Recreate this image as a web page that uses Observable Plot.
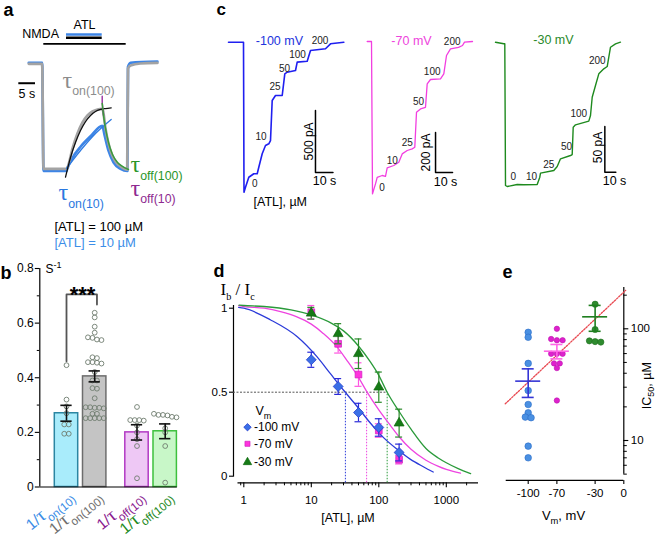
<!DOCTYPE html>
<html><head><meta charset="utf-8">
<script src="https://cdn.jsdelivr.net/npm/d3@7"></script>
<script src="https://cdn.jsdelivr.net/npm/@observablehq/plot@0.6"></script>
<style>
html,body{margin:0;padding:0;background:#fff;}
#fig{position:relative;width:656px;height:538px;overflow:hidden;background:#fff;}
</style></head><body><div id="fig"></div>
<script>
// ---------------- DATA ----------------
// panel a : normalised NMDA current traces (t in s, I normalised)
const aTrace100 = [[0,0],[4.0,0],[4.4,-1.0],[11.3,-1.0],[11.59,-0.988],[13.08,-0.807],[14.58,-0.664],[16.08,-0.559],[17.57,-0.492],[19.07,-0.454],[20.57,-0.435],[21.92,-0.429],[22.22,-0.445],[22.96,-0.616],[23.86,-0.759],[24.76,-0.854],[25.96,-0.93],[27.46,-0.977],[29.46,-1.007],[29.7,-0.045],[30.45,-0.016],[33.4,0.003],[38.5,0.008]];
const aTrace10 = [[0,0.01],[4.0,0.01],[4.4,-1.02],[11.3,-1.02],[11.5,-1.0],[13,-0.9],[15.5,-0.79],[18.5,-0.69],[22.0,-0.59],[22.7,-0.68],[23.9,-0.83],[25.4,-0.94],[27.5,-1.0],[29.5,-1.02],[29.7,-0.03],[30.45,0.01],[38.5,0.02]];
const aFitOn100 = [[10.99,-1.08],[12.49,-0.892],[13.98,-0.75],[15.48,-0.635],[16.98,-0.55],[18.47,-0.492],[19.97,-0.454],[21.47,-0.435],[22.96,-0.426],[24.67,-0.419]];
const aFitOn10 = [[11.29,-0.997],[15.48,-0.826],[19.97,-0.664],[24.67,-0.53]];
const aFitOff100 = [[21.99,-0.378],[22.37,-0.492],[22.96,-0.616],[23.86,-0.75],[25.06,-0.864],[26.56,-0.94],[28.05,-0.978],[29.85,-1.007]];
const aFitOff10 = [[21.98,-0.31],[21.99,-0.38],[22.37,-0.49]];
const aStim = [{name: "NMDA", t1: 4.49, t2: 29.16}, {name: "ATL", t1: 11.29, t2: 21.98}];

// panel b : rates (s^-1)
const bCats = ["on10", "on100", "off10", "off100"];
const bLabels = ["1/~1.25{τ}_0.75{on(10)}", "1/~1.25{τ}_0.75{on(100)}", "1/~1.25{τ}_0.75{off(10)}", "1/~1.25{τ}_0.75{off(100)}"];
const bMean = [0.27, 0.405, 0.2, 0.204];
const bSem = [0.029, 0.02, 0.028, 0.027];
const bOn10 = [0.446, 0.32, 0.295, 0.27, 0.229, 0.229, 0.195, 0.195];
const bOn100 = [0.638, 0.621, 0.587, 0.565, 0.548, 0.546, 0.54, 0.538, 0.475, 0.472, 0.457, 0.457, 0.455, 0.452, 0.421, 0.39, 0.39, 0.362, 0.36, 0.325, 0.292, 0.292, 0.29, 0.29, 0.288, 0.268, 0.268, 0.252, 0.252, 0.252, 0.252, 0.252];
const bOff10 = [0.293, 0.245, 0.245, 0.245, 0.243, 0.225, 0.2, 0.175, 0.15, 0.032];
const bOff100 = [0.268, 0.264, 0.264, 0.262, 0.257, 0.255, 0.215, 0.2, 0.15, 0.016];
const bTicks = [0, 0.2, 0.4, 0.6, 0.8];
const bTickLabels = ["0", "0.2", "0.4", "0.6", "0.8"];

// panel c : current traces (t in s, I in pA)
const cSteps = ["0", "10", "25", "50", "100", "200"];
const cBlue = [[0,0],[8.57,0],[8.86,-1210],[9.71,-1169],[11.6,-1089],[14.46,-1061],[16.4,-1061],[17.31,-1008],[19.26,-900],[21.14,-833],[23.03,-819],[24.0,-793],[24.97,-470],[26.86,-430],[30.69,-430],[32.17,-255],[33.54,-242],[38.29,-228],[39.26,-161],[44.97,-153],[46.86,-67],[55.43,-53],[58.29,-13],[65.9,0]];
const cPink = [[0,0],[2.53,0],[3.12,-762],[4.88,-712],[5.88,-679],[8.82,-670],[10.76,-674],[11.76,-632],[15.65,-620],[18.59,-604],[20.59,-562],[23.53,-545],[26.47,-537],[28.0,-529],[29.0,-354],[31.35,-337],[34.29,-329],[35.29,-212],[37.24,-190],[43.12,-187],[45.06,-162],[46.65,-70],[49.0,-37],[53.71,-29],[56.06,-20],[57.24,-3],[61.94,0]];
const cGreen = [[0,0],[7.55,-1.75],[8.45,-1.75],[9.09,-156.8],[10.64,-157.9],[19.73,-155.7],[25.73,-156],[37.91,-155.7],[40.27,-147.7],[40.91,-143.3],[53,-140.4],[56.09,-136],[59.09,-127.6],[68.18,-124],[69.73,-122.9],[70.64,-93],[72.73,-90.4],[84.82,-86.4],[86.36,-80.2],[87.91,-60.2],[90.91,-47.4],[93.91,-34.6],[98.45,-29.1],[101.55,-26.6],[103,-16.4],[104.55,-5.5],[109.1,-1.75],[113.6,0]];
const cBlueLab = [[15.03,-1140],[18.57,-765],[26.57,-360],[32.0,-212],[39.43,-103],[52.29,14]];
const cPinkLab = [[8.71,-730],[14.7,-595],[23.53,-507],[30.18,-303],[38.24,-153],[50,-3]];
const cGreenLab = [[16.1,-147],[32.7,-147],[48.5,-134],[64.5,-114],[75.7,-78],[92.5,-20]];
const cBars = [{t: 49.7, i: -1050, dt: 10, di: 500}, {t: 40.2, i: -655, dt: 10, di: 200}, {t: 99.4, i: -142.2, dt: 10, di: 50}];

// panel d : concentration-response
const dConc = [10, 25, 50, 100, 200];
const dMean100 = [0.693, 0.534, 0.379, 0.29, 0.141];
const dErr100 = [0.045, 0.047, 0.055, 0.052, 0.05];
const dMean70 = [0.976, 0.788, 0.605, 0.272, 0.098];
const dErr70 = [0.04, 0.055, 0.07, 0.04, 0.025];
const dMean30 = [0.97, 0.848, 0.729, 0.53, 0.316];
const dErr30 = [0.035, 0.06, 0.088, 0.09, 0.083];
const dFit100 = [[0.84,1.005],[1,1.0],[2.5,0.93],[6.2,0.83],[12.2,0.71],[19.2,0.61],[30.3,0.51],[47.8,0.415],[75.4,0.315],[118.6,0.228],[187,0.16],[295,0.1],[464,0.055],[640,0.025]];
const dFit70 = [[0.84,1.015],[1,1.01],[2,1.0],[3.5,0.98],[6,0.95],[10,0.905],[15,0.85],[24,0.77],[35,0.68],[48,0.6],[66,0.505],[100,0.395],[150,0.3],[200,0.235],[300,0.16],[500,0.095],[750,0.06],[1000,0.04],[1623,0.018]];
const dFit30 = [[0.85,1.018],[1,1.016],[2,1.01],[5,0.99],[10,0.96],[20,0.91],[30,0.865],[50,0.775],[75,0.68],[100,0.6],[133,0.5],[200,0.385],[300,0.28],[500,0.165],[750,0.11],[1000,0.08],[1500,0.045],[2290,0.015]];
const dIC50 = [32, 66, 133];
const dSeries = ["-100 mV", "-70 mV", "-30 mV"];

// panel e : IC50 vs Vm
const eVm = [-100, -70, -30];
const eIC100 = [93, 84, 49, 28, 21, 17.7, 16.2, 16, 8.9, 7.0];
const eIC70 = [100, 81, 79, 79, 59.7, 59.7, 59.7, 49, 49, 44.5, 22.8];
const eIC30 = [166, 98.6, 78, 76.8, 76];
const eMean = [34, 63, 128];
const eLo = [24.3, 53.8, 95];
const eHi = [43.8, 72.4, 162];
const eFit = [[-124, 21.3], [2, 221]];
const eXTicks = [-100, -70, -30, 0];

// ---------------- HELPERS ----------------
const FONT = "'Liberation Sans', Arial, Helvetica, sans-serif";
const SERIF = "'Liberation Serif', 'Times New Roman', serif";
const fig = document.getElementById("fig");
const NS = "http://www.w3.org/2000/svg";

function rich(root) {
  root.querySelectorAll("text").forEach(t => {
    const s = t.textContent;
    if (!/[_^~][\d.]*\{/.test(s)) return;
    const base = parseFloat(getComputedStyle(t).fontSize) || 10;
    while (t.firstChild) t.removeChild(t.firstChild);
    const re = /([_^~])([\d.]*)\{([^}]*)\}/g;
    let last = 0, m, shift = 0, prev = base;
    const add = (str, size, target, family) => {
      if (!str) return;
      const sp = document.createElementNS(NS, "tspan");
      sp.textContent = str;
      if (Math.abs(size - base) > 0.01) sp.setAttribute("font-size", size.toFixed(2));
      if (family) sp.setAttribute("font-family", family);
      const d = target - shift;
      if (Math.abs(d) > 0.01) sp.setAttribute("dy", d.toFixed(2));
      shift = target;
      t.appendChild(sp);
      if (target === 0) prev = size;
    };
    while ((m = re.exec(s))) {
      add(s.slice(last, m.index), base, 0);
      const k = m[2] ? parseFloat(m[2]) : null;
      if (m[1] === "_") add(m[3], base * (k || 0.72), 0.3 * prev);
      else if (m[1] === "^") add(m[3], base * (k || 0.72), -0.42 * prev);
      else add(m[3], base * (k || 1), 0, SERIF);
      last = re.lastIndex;
    }
    add(s.slice(last), base, 0);
  });
}

function panel(x, y, marks) {
  const svg = Plot.plot({
    width: 656, height: 538, margin: 0,
    style: `background: none; font-family: ${FONT}; overflow: visible; position: absolute; left: 0; top: 0;`,
    x: {...x, axis: null}, y: {...y, axis: null},
    color: {type: "identity"},
    marks
  });
  fig.appendChild(svg);
  rich(svg);
  return svg;
}
const T = (s, x, y, o = {}) => Plot.text([s], {x, y, text: d => d, ...o});
const X0 = d => d[0], Y1 = d => d[1];

function spread(vals, tol, step, log) {
  const key = v => log ? Math.log10(v) : v;
  const idx = vals.map((v, i) => i).sort((a, b) => vals[b] - vals[a]);
  const offs = new Array(vals.length).fill(0);
  let g = [];
  const flush = () => { g.forEach((i, j) => offs[i] = (j - (g.length - 1) / 2) * step); g = []; };
  for (const i of idx) {
    if (g.length && Math.abs(key(vals[g[0]]) - key(vals[i])) > tol) flush();
    g.push(i);
  }
  flush();
  return offs;
}

// ---------------- PANEL A ----------------
panel({domain: [0, 39], range: [28.3, 158.56]}, {domain: [-1, 0], range: [168.3, 63.3]}, [
  Plot.line(aTrace10, {x: X0, y: Y1, stroke: "#3d85e6", strokeWidth: 2.7, curve: "monotone-x"}),
  Plot.line(aTrace100, {x: X0, y: Y1, stroke: "#a3a3a3", strokeWidth: 2.7, curve: "monotone-x"}),
  Plot.line(aFitOn10, {x: X0, y: Y1, stroke: "#2f7be0", strokeWidth: 1.3, curve: "monotone-x"}),
  Plot.line(aFitOn100, {x: X0, y: Y1, stroke: "#111", strokeWidth: 1.3, curve: "monotone-x"}),
  Plot.line(aFitOff10, {x: X0, y: Y1, stroke: "#a03ca6", strokeWidth: 1.5}),
  Plot.line(aFitOff100, {x: X0, y: Y1, stroke: "#3a9a3a", strokeWidth: 1.5, curve: "monotone-x"}),
  Plot.ruleY([aStim[0]], {y: 0.19, x1: "t1", x2: "t2", stroke: "#000", strokeWidth: 1.8}),
  Plot.ruleY([aStim[1]], {y: 0.279, x1: "t1", x2: "t2", stroke: "#3d85e6", strokeWidth: 2.6}),
  Plot.ruleY([aStim[1]], {y: 0.248, x1: "t1", x2: "t2", stroke: "#000", strokeWidth: 2.6}),
  Plot.ruleY([5], {y: -0.185, x1: -2.99, x2: d => -2.99 + d, stroke: "#000", strokeWidth: 2}),
  T("a", -7.57, 0.46, {fontWeight: "bold", fontSize: 18, textAnchor: "start", lineAnchor: "bottom"}),
  T(aStim[0].name, 9.04, 0.246, {fontSize: 12.5, textAnchor: "end", lineAnchor: "bottom"}),
  T(aStim[1].name, 16.68, 0.336, {fontSize: 12.5, textAnchor: "middle", lineAnchor: "bottom"}),
  T("5 s", -3.08, -0.321, {fontSize: 12.5, textAnchor: "start", lineAnchor: "bottom"}),
  T("~1.85{τ}_0.95{on(100)}", 10.09, -0.23, {fill: "#8c8c8c", fontSize: 13, textAnchor: "start", lineAnchor: "bottom"}),
  T("~1.85{τ}_0.95{on(10)}", 8.89, -1.30, {fill: "#2a78e0", fontSize: 13, textAnchor: "start", lineAnchor: "bottom"}),
  T("~1.85{τ}_0.95{off(100)}", 30.45, -1.035, {fill: "#2a962a", fontSize: 13, textAnchor: "start", lineAnchor: "bottom"}),
  T("~1.85{τ}_0.95{off(10)}", 30.45, -1.259, {fill: "#8e2a90", fontSize: 13, textAnchor: "start", lineAnchor: "bottom"}),
  T("[ATL] = 100 µM", 7.69, -1.588, {fontSize: 13, textAnchor: "start", lineAnchor: "bottom"}),
  T("[ATL] = 10 µM", 7.69, -1.74, {fill: "#3c8ee8", fontSize: 13, textAnchor: "start", lineAnchor: "bottom"})
]);

// ---------------- PANEL B ----------------
const bx = i => i + (i >= 2 ? 0.5 : 0);
const bAx = -0.947;
const bIdx = bCats.map((c, i) => i);
const bFill = ["#a9ecfb", "#c4c4c4", "#eec8f5", "#c8f7c8"];
const bStroke = ["#2b86a2", "#6d6d6d", "#b23ac4", "#3ec03e"];
const bLabFill = ["#3a8de6", "#6e6e6e", "#8a1a90", "#1e8a1e"];
const bDots = [bOn10, bOn100, bOff10, bOff100];
const bDotMarks = bDots.map((vals, k) => {
  const offs = spread(vals, 0.014, 0.16, false);
  return Plot.dot(vals, {x: (d, i) => bx(k) + offs[i], y: d => d, r: 2.4, stroke: "#6f7d6f", fill: "none", strokeWidth: 0.9});
});
panel({domain: [0, 3.5], range: [66, 164.7]}, {domain: [0, 0.8], range: [486.5, 268]}, [
  Plot.rectY(bIdx, {x1: i => bx(i) - 0.415, x2: i => bx(i) + 0.415, y1: 0, y2: i => bMean[i], fill: i => bFill[i], stroke: i => bStroke[i], strokeWidth: 1.5}),
  ...bDotMarks,
  Plot.ruleX(bIdx, {x: i => bx(i), y1: i => bMean[i] - bSem[i], y2: i => bMean[i] + bSem[i], stroke: "#111", strokeWidth: 1.6}),
  Plot.ruleY(bIdx, {y: i => bMean[i] - bSem[i], x1: i => bx(i) - 0.2, x2: i => bx(i) + 0.2, stroke: "#111", strokeWidth: 1.6}),
  Plot.ruleY(bIdx, {y: i => bMean[i] + bSem[i], x1: i => bx(i) - 0.2, x2: i => bx(i) + 0.2, stroke: "#111", strokeWidth: 1.6}),
  Plot.line([[bx(0), 0.46], [bx(0), 0.705], [bx(1) + 0.08, 0.705], [bx(1) + 0.08, 0.668]], {x: X0, y: Y1, stroke: "#555", strokeWidth: 1.8}),
  T("***", 0.567, 0.677, {fontSize: 22, fontWeight: "bold", textAnchor: "middle", lineAnchor: "bottom"}),
  Plot.ruleX([bAx], {x: d => d, y1: 0, y2: 0.8, stroke: "#000", strokeWidth: 1.2}),
  Plot.ruleY([0], {y: d => d, x1: bAx, x2: 3.93, stroke: "#000", strokeWidth: 1.2}),
  Plot.ruleY(bTicks, {y: d => d, x1: bAx, x2: bAx, insetLeft: -4.5, stroke: "#000", strokeWidth: 1.1}),
  Plot.ruleY([0.1, 0.3, 0.5, 0.7], {y: d => d, x1: bAx, x2: bAx, insetLeft: -2.5, stroke: "#000", strokeWidth: 1}),
  Plot.text(bTicks, {x: bAx, y: d => d, text: (d, i) => bTickLabels[i], dx: -6, textAnchor: "end", lineAnchor: "middle", fontSize: 12}),
  T("S^0.75{-1}", -0.745, 0.782, {fontSize: 12, textAnchor: "start", lineAnchor: "bottom"}),
  T("b", -2.34, 0.761, {fontWeight: "bold", fontSize: 18, textAnchor: "start", lineAnchor: "bottom"}),
  Plot.text(bIdx, {x: i => bx(i), y: 0, text: i => bLabels[i], fill: i => bLabFill[i], rotate: -39, textAnchor: "end", lineAnchor: "top", dx: 0, dy: 1, fontSize: 15.5})
]);

// ---------------- PANEL C ----------------
function tracePanel(data, labs, bar, xr, yr, color, sw, extra) {
  return panel({domain: xr[0], range: xr[1]}, {domain: yr[0], range: yr[1]}, [
    Plot.line(data, {x: X0, y: Y1, stroke: color, strokeWidth: sw}),
    Plot.text(cSteps, {x: (d, i) => labs[i][0], y: (d, i) => labs[i][1], text: d => d, fontSize: 10, fill: "#222", textAnchor: "middle", lineAnchor: "middle"}),
    Plot.line([[bar.t, bar.i + bar.di], [bar.t, bar.i], [bar.t + bar.dt, bar.i]], {x: X0, y: Y1, stroke: "#000", strokeWidth: 1.5}),
    ...extra
  ]);
}
tracePanel(cBlue, cBlueLab, cBars[0], [[0, 66], [228, 343.5]], [[-1210, 0], [191.74, 41.7]], "#1f1ff0", 1.6, [
  T("c", -6.86, 218, {fontWeight: "bold", fontSize: 17, textAnchor: "start", lineAnchor: "bottom"}),
  T("-100 mV", 29.1, 13.7, {fill: "#2233dd", fontSize: 12.5, textAnchor: "middle", lineAnchor: "middle"}),
  T("500 pA", 46.0, -800, {fontSize: 12, rotate: -90, textAnchor: "middle", lineAnchor: "middle"}),
  T("10 s", 54.86, -1123, {fontSize: 12.5, textAnchor: "middle", lineAnchor: "middle"}),
  T("[ATL], µM", 14.29, -1285, {fontSize: 12.5, textAnchor: "start", lineAnchor: "middle"})
]);
tracePanel(cPink, cPinkLab, cBars[1], [[0, 62], [366.7, 472.1]], [[-762, 0], [193.4, 41]], "#f23fe0", 1.3, [
  T("-70 mV", 26.06, 5, {fill: "#ee44dd", fontSize: 12.5, textAnchor: "middle", lineAnchor: "middle"}),
  T("200 pA", 34.88, -555, {fontSize: 12, rotate: -90, textAnchor: "middle", lineAnchor: "middle"}),
  T("10 s", 46.06, -700, {fontSize: 12.5, textAnchor: "middle", lineAnchor: "middle"})
]);
tracePanel(cGreen, cGreenLab, cBars[2], [[0, 113.6], [495, 619.96]], [[-160, 0], [187.94, 41.7]], "#1e8a1e", 1.4, [
  T("-30 mV", 52.7, 1.9, {fill: "#2a8a2a", fontSize: 12.5, textAnchor: "middle", lineAnchor: "middle"}),
  T("50 pA", 93.4, -115.2, {fontSize: 12, rotate: -90, textAnchor: "middle", lineAnchor: "middle"}),
  T("10 s", 108.2, -152.4, {fontSize: 12.5, textAnchor: "middle", lineAnchor: "middle"})
]);

// ---------------- PANEL D ----------------
const dAx = 0.7036, dAy = -0.0393;
const dMinor = [];
for (const dec of [0.1, 1, 10, 100, 1000]) for (let k = 2; k <= 9; k++) {
  const v = +(k * dec).toPrecision(6);
  if (v >= 0.85 && v <= 2500) dMinor.push(v);
}
const dCol = {line: ["#2b3bd9", "#ee44e0", "#2a9a3a"], err: ["#2a2ad8", "#ff55e0", "#2a8a2a"], fill: ["#3a6fe6", "#ff33dd", "#167a16"], stroke: ["#1f35c8", "#d020c0", "#0f6a0f"]};
const dSym = ["diamond2", "square", "triangle"];
const dR = [4.5, 3.8, 3.7];
const dMeans = [dMean100, dMean70, dMean30], dErrs = [dErr100, dErr70, dErr30], dFits = [dFit100, dFit70, dFit30];
const dIdx = dConc.map((c, i) => i);
const dSeriesMarks = [1, 0, 2].flatMap(s => [
  Plot.ruleX(dIdx, {x: i => dConc[i], y1: i => dMeans[s][i] - dErrs[s][i], y2: i => dMeans[s][i] + dErrs[s][i], stroke: dCol.err[s], strokeWidth: 1.2}),
  Plot.ruleY(dIdx, {y: i => dMeans[s][i] - dErrs[s][i], x1: i => dConc[i], x2: i => dConc[i], insetLeft: -3.5, insetRight: -3.5, stroke: dCol.err[s], strokeWidth: 1.2}),
  Plot.ruleY(dIdx, {y: i => dMeans[s][i] + dErrs[s][i], x1: i => dConc[i], x2: i => dConc[i], insetLeft: -3.5, insetRight: -3.5, stroke: dCol.err[s], strokeWidth: 1.2}),
  Plot.dot(dIdx, {x: i => dConc[i], y: i => dMeans[s][i], symbol: dSym[s], r: dR[s], fill: dCol.fill[s], stroke: dCol.stroke[s], strokeWidth: 0.7})
]);
const dLegY = [0.2917, 0.1929, 0.0833];
panel({type: "log", domain: [1, 1000], range: [243.3, 445.8]}, {domain: [0, 1], range: [475.7, 307.7]}, [
  Plot.ruleX([dAx], {x: d => d, y1: -0.006, y2: 1.016, stroke: "#000", strokeWidth: 1.2}),
  Plot.ruleY([dAy], {y: d => d, x1: 0.82, x2: 3000, stroke: "#000", strokeWidth: 1.2}),
  Plot.ruleY([0, 0.5, 1], {y: d => d, x1: dAx, x2: dAx, insetLeft: -4, stroke: "#000", strokeWidth: 1.1}),
  Plot.text(["0", "0.5", "1"], {x: dAx, y: d => +d, text: d => d, dx: -6, textAnchor: "end", lineAnchor: "middle", fontSize: 11.5}),
  Plot.ruleX([1, 10, 100, 1000], {x: d => d, y1: dAy, y2: dAy, insetBottom: -5, stroke: "#000", strokeWidth: 1.1}),
  Plot.ruleX(dMinor, {x: d => d, y1: dAy, y2: dAy, insetBottom: -3, stroke: "#000", strokeWidth: 1}),
  Plot.text([1, 10, 100, 1000], {x: d => d, y: dAy, text: d => String(d), dy: 17.7, textAnchor: "middle", lineAnchor: "middle", fontSize: 11.5}),
  Plot.ruleY([0.5], {y: d => d, x1: dAx, x2: dIC50[2], stroke: "#555", strokeWidth: 1, strokeDasharray: "2,1.5"}),
  Plot.ruleX(dIC50, {x: d => d, y1: dAy, y2: 0.5, stroke: (d, i) => dCol.line[i], strokeWidth: 1, strokeDasharray: "1.5,1.5"}),
  ...dFits.map((f, s) => Plot.line(f, {x: X0, y: Y1, stroke: dCol.line[s], strokeWidth: 1.3, curve: "monotone-x"})),
  ...dSeriesMarks,
  T("V_0.72{m}", 1.49, 0.362, {fontSize: 12.5, textAnchor: "start", lineAnchor: "bottom"}),
  Plot.dot(dSeries, {x: 1.134, y: (d, i) => dLegY[i], symbol: (d, i) => dSym[i], r: (d, i) => [5.3, 3.8, 4.6][i], fill: (d, i) => dCol.fill[i], stroke: (d, i) => dCol.stroke[i], strokeWidth: 0.7}),
  Plot.text(dSeries, {x: 1.416, y: (d, i) => dLegY[i], text: d => d, fontSize: 12, textAnchor: "start", lineAnchor: "middle"}),
  T("d", 0.356, 1.183, {fontWeight: "bold", fontSize: 18, textAnchor: "start", lineAnchor: "bottom"}),
  T("I_0.6{b} / I_0.6{c}", 0.452, 1.0815, {fontFamily: SERIF, fontSize: 17, textAnchor: "start", lineAnchor: "bottom"}),
  T("[ATL], µM", 34.98, -0.246, {fontSize: 12.5, textAnchor: "middle", lineAnchor: "middle"})
]);

// ---------------- PANEL E ----------------
const eAy = 4.39;
const eCol = {pt: ["#4a90e2", "#dd22cc", "#2e8b2e"], ptStroke: ["#2a6cc8", "#c010b0", "#1f6f1f"], mean: ["#3535d5", "#ff66e6", "#1f7f1f"], r: [3.3, 2.7, 3.1]};
const eVals = [eIC100, eIC70, eIC30];
const eIdx = eVm.map((v, i) => i);
const ePtMarks = eVals.map((vals, k) => {
  const offs = spread(vals, 0.012, 6, true);
  return Plot.dot(vals, {x: (d, i) => eVm[k] + offs[i], y: d => d, r: eCol.r[k], fill: eCol.pt[k], stroke: eCol.ptStroke[k], strokeWidth: 0.6});
});
panel({domain: [-100, 0], range: [527.7, 623.3]}, {type: "log", domain: [10, 100], range: [440, 328.3]}, [
  Plot.ruleX([0], {x: d => d, y1: 5, y2: 234, stroke: "#000", strokeWidth: 1.2}),
  Plot.ruleY([eAy], {y: d => d, x1: -123, x2: 0, stroke: "#000", strokeWidth: 1.2}),
  Plot.ruleY([10, 100], {y: d => d, x1: 0, x2: 0, insetRight: -5, stroke: "#000", strokeWidth: 1.1}),
  Plot.ruleY([5, 6, 7, 8, 9, 20, 30, 40, 50, 60, 70, 80, 90, 200], {y: d => d, x1: 0, x2: 0, insetRight: -3.5, stroke: "#000", strokeWidth: 1}),
  Plot.text([10, 100], {x: 0, y: d => d, text: d => String(d), dx: 7, textAnchor: "start", lineAnchor: "middle", fontSize: 11.5}),
  Plot.ruleX(eXTicks, {x: d => d, y1: eAy, y2: eAy, insetBottom: -4, stroke: "#000", strokeWidth: 1.1}),
  Plot.text(eXTicks, {x: d => d, y: eAy, text: d => String(d), dy: 13, textAnchor: "middle", lineAnchor: "middle", fontSize: 11.5}),
  Plot.line(eFit, {x: X0, y: Y1, stroke: "#e8474f", strokeWidth: 1.3, strokeDasharray: "1.5,1.5"}),
  ...ePtMarks,
  Plot.ruleY(eIdx, {y: i => eMean[i], x1: i => eVm[i], x2: i => eVm[i], insetLeft: -12.5, insetRight: -12.5, stroke: i => eCol.mean[i], strokeWidth: 1.6}),
  Plot.ruleX(eIdx, {x: i => eVm[i], y1: i => eLo[i], y2: i => eHi[i], stroke: i => eCol.mean[i], strokeWidth: 1.6}),
  Plot.ruleY(eIdx, {y: i => eLo[i], x1: i => eVm[i], x2: i => eVm[i], insetLeft: -6, insetRight: -6, stroke: i => eCol.mean[i], strokeWidth: 1.6}),
  Plot.ruleY(eIdx, {y: i => eHi[i], x1: i => eVm[i], x2: i => eVm[i], insetLeft: -6, insetRight: -6, stroke: i => eCol.mean[i], strokeWidth: 1.6}),
  T("e", -126.9, 287.6, {fontWeight: "bold", fontSize: 18, textAnchor: "start", lineAnchor: "bottom"}),
  T("V_0.72{m}, mV", -63.1, 2.13, {fontSize: 13, textAnchor: "middle", lineAnchor: "middle"}),
  T("IC_0.72{50}, µM", 23.8, 31.0, {fontSize: 12.5, rotate: -90, textAnchor: "middle", lineAnchor: "middle"})
]);
</script></body></html>
